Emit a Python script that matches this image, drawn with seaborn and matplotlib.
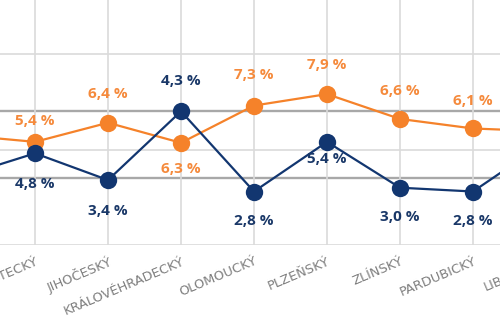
import matplotlib
matplotlib.use("Agg")
import matplotlib.pyplot as plt
import seaborn as sns
import pandas as pd

# ---- data ----
# first category lies off the left edge of the crop, last one off the right edge
categories = ["", "ÚSTECKÝ", "JIHOČESKÝ", "KRÁLOVÉHRADECKÝ", "OLOMOUCKÝ",
              "PLZEŇSKÝ", "ZLÍNSKÝ", "PARDUBICKÝ", "LIBERECKÝ"]
# plotted heights as drawn in the graphic (percent scale)
orange_values = [5.75, 5.4, 6.4, 5.35, 7.3, 7.9, 6.6, 6.1, 5.95]
blue_values = [3.6, 4.8, 3.4, 7.0, 2.8, 5.4, 3.0, 2.8, 5.4]
# printed labels
orange_labels = ["", "5,4 %", "6,4 %", "6,3 %", "7,3 %", "7,9 %", "6,6 %", "6,1 %", ""]
blue_labels = ["", "4,8 %", "3,4 %", "4,3 %", "2,8 %", "5,4 %", "3,0 %", "2,8 %", ""]
grid_levels = [0, 5, 10]
reference_levels = [3.5, 7.0]

# ---- style ----
ORANGE = "#F5822A"
ORANGE_TXT = "#F58A3C"
NAVY = "#123670"
NAVY_TXT = "#1A3868"
TICK_GRAY = "#7F7F7F"
# label vertical offsets in points (positive = above)
orange_offsets = [0, 15, 21, -19, 22, 21, 20, 20, 0]
blue_offsets = [0, -22, -22, 22, -21, -12, -21, -21, 0]

sns.set_theme(style="white")
plt.rcParams["font.family"] = ["DejaVu Sans"]

df = pd.DataFrame({
    "pos": list(range(len(categories))) * 2,
    "value": orange_values + blue_values,
    "series": ["orange"] * len(categories) + ["blue"] * len(categories),
})

fig = plt.figure(figsize=(5.0, 3.34), dpi=100)
ax = fig.add_axes([0, 89 / 334, 1, 245 / 334])
px_per_unit = 19.1

for lv in grid_levels:
    ax.axhline(lv, color="#DDDDDD", lw=1.3, zorder=1)
for lv in reference_levels:
    ax.axhline(lv, color="#A8A8A8", lw=1.7, zorder=1)
for i in range(len(categories)):
    ax.axvline(i, color="#DADADA", lw=1.2, zorder=1)

sns.lineplot(data=df, x="pos", y="value", hue="series",
             hue_order=["orange", "blue"],
             palette={"orange": ORANGE, "blue": NAVY},
             marker="o", markersize=12.5, markeredgewidth=0,
             linewidth=1.6, legend=False, ax=ax, zorder=3, sort=False)

for i, (v, t, off) in enumerate(zip(orange_values, orange_labels, orange_offsets)):
    if t:
        ax.annotate(t, (i, v), xytext=(0, off), textcoords="offset points",
                    ha="center", va="center", color=ORANGE_TXT,
                    fontsize=11, fontweight="bold", family="Open Sans")
for i, (v, t, off) in enumerate(zip(blue_values, blue_labels, blue_offsets)):
    if t:
        ax.annotate(t, (i, v), xytext=(0, off), textcoords="offset points",
                    ha="center", va="center", color=NAVY_TXT,
                    fontsize=11, fontweight="bold", family="Open Sans")

TICK_FS = 9.4
ax.set_xticks(range(len(categories)))
ax.set_xticklabels(categories, rotation=23, ha="right", rotation_mode="anchor",
                   color=TICK_GRAY, fontsize=TICK_FS)
ax.tick_params(axis="x", length=3, color="#DADADA", pad=4)
ax.set_yticks([])
ax.set_xlabel("")
ax.set_ylabel("")
for s in ax.spines.values():
    s.set_visible(False)

ax.set_ylim(0, 245 / px_per_unit)
ax.set_xlim(1 - 35 / 73, 1 + 465 / 73)

# the last category's tick sits beyond the right edge; its label still peeks in
last = len(categories) - 1
ax.annotate(categories[last], xy=(last, 0), xycoords=("data", "axes fraction"),
            xytext=(0, -7), textcoords="offset points", rotation=23,
            ha="right", va="top", rotation_mode="anchor", color=TICK_GRAY,
            fontsize=TICK_FS, annotation_clip=False)

fig.savefig("out.png", dpi=100)
